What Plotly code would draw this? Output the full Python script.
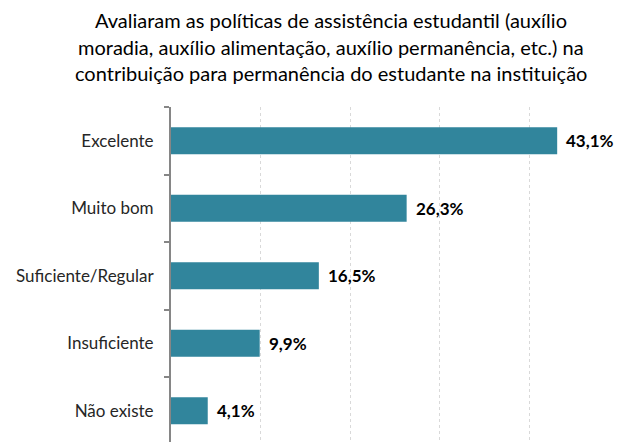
import plotly.graph_objects as go

categories = ["Não existe", "Insuficiente", "Suficiente/Regular", "Muito bom", "Excelente"]
values = [4.1, 9.9, 16.5, 26.3, 43.1]
title_lines = [
    "Avaliaram as políticas de assistência estudantil (auxílio",
    "moradia, auxílio alimentação, auxílio permanência, etc.) na",
    "contribuição para permanência do estudante na instituição",
]

FONT = "Lato"
BAR = "#31859C"
W, H = 622, 442
ML, MR, MT, MB = 171, 3, 107, 0
PW = W - ML - MR
PH = H - MT - MB

fig = go.Figure(go.Bar(
    y=categories, x=values, orientation="h",
    marker=dict(color=BAR, line=dict(width=0)),
    width=0.4, hoverinfo="skip",
))

for c, v in zip(categories, values):
    fig.add_annotation(
        x=v, y=c, xref="x", yref="y",
        text="<b>" + f"{v:.1f}".replace(".", ",") + "%</b>",
        showarrow=False, xanchor="left", xshift=7,
        font=dict(family=FONT, size=17, color="#000000"),
    )

title_y_px = [20, 47, 73]
for line, ypx in zip(title_lines, title_y_px):
    fig.add_annotation(
        x=(331 - ML) / PW, y=(H - MB - ypx) / PH, xref="paper", yref="paper",
        text=line, showarrow=False, xanchor="center", yanchor="middle",
        font=dict(family=FONT, size=20, color="#000000"),
    )

fig.update_layout(
    width=W, height=H,
    margin=dict(l=ML, r=MR, t=MT, b=MB),
    paper_bgcolor="white", plot_bgcolor="white",
    showlegend=False,
    font=dict(family=FONT, size=17, color="#262626"),
)

fig.update_xaxes(
    range=[0, 50], showticklabels=False, ticks="",
    showgrid=True, gridcolor="#D9D9D9", griddash="dot", gridwidth=1,
    dtick=10, zeroline=False, showline=False, automargin=False,
)
fig.update_yaxes(
    categoryorder="array", categoryarray=categories,
    range=[-0.463, 4.5],
    tickson="boundaries", ticks="outside", ticklen=5, tickcolor="#868686", tickwidth=2,
    showline=True, linecolor="#868686", linewidth=2,
    showgrid=False, ticklabelstandoff=12, automargin=False,
    tickfont=dict(family=FONT, size=17, color="#262626"),
)

fig.write_html(
    "out.html",
    config={"displayModeBar": False, "staticPlot": True},
    post_script="document.body.style.margin='0';document.body.style.padding='0';",
)
